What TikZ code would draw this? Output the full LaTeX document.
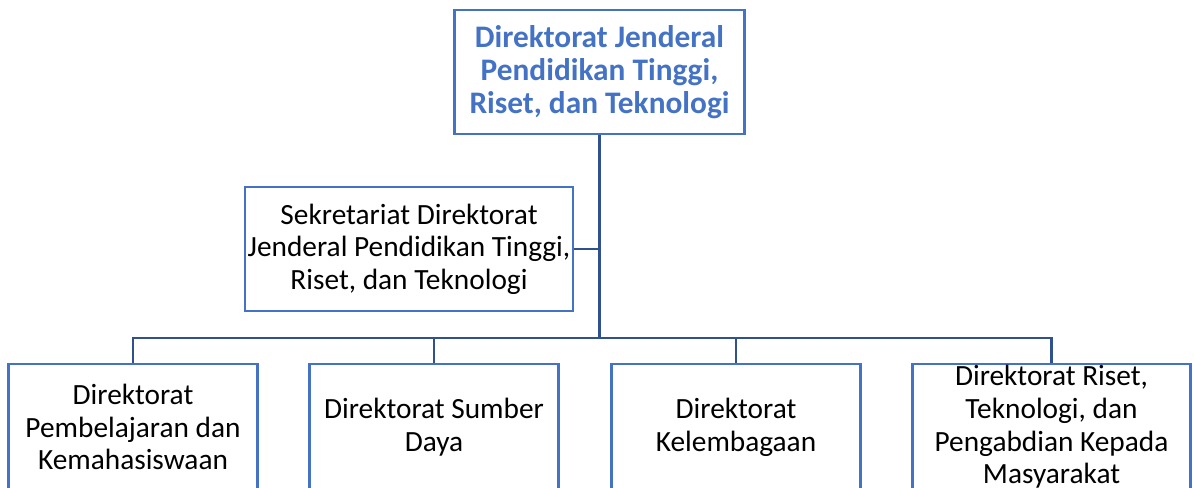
\documentclass[tikz,border=0pt]{standalone}
\usepackage{fontspec}
\setmainfont{Carlito}
\definecolor{boxblue}{HTML}{4472C4}
\definecolor{lineblue}{HTML}{2F528F}
\tikzset{
  unit/.style={draw=boxblue,line width=2.1pt,align=center,inner sep=0pt,
    font=\fontsize{22}{24.5}\selectfont},
  link/.style={draw=lineblue,line width=2.1pt}
}

\begin{document}
\begin{tikzpicture}[x=0.75pt,y=-0.75pt]
    \useasboundingbox (0,0) rectangle (1194,487);
    \clip (0,0) rectangle (1194,487);
    \node[unit,minimum width=218pt,minimum height=93pt,text=boxblue,
      font=\fontsize{23.5}{25}\selectfont\bfseries] (Dirjen) at (599.5,72)
      {Direktorat Jenderal\\Pendidikan Tinggi,\\Riset, dan Teknologi};
    \node[unit,minimum width=246pt,minimum height=93pt] (Sekr) at (409,249)
      {Sekretariat Direktorat\\Jenderal Pendidikan Tinggi,\\Riset, dan Teknologi};
    \node[unit,minimum width=187pt,minimum height=94.5pt] (D1) at (133,427)
      {Direktorat\\Pembelajaran dan\\Kemahasiswaan};
    \node[unit,minimum width=187pt,minimum height=94.5pt] (D2) at (434,427)
      {Direktorat Sumber\\Daya};
    \node[unit,minimum width=187pt,minimum height=94.5pt] (D3) at (736,427)
      {Direktorat\\Kelembagaan};
    \node[unit,minimum width=209pt,minimum height=94.5pt] (D4) at (1051.5,427)
      {Direktorat Riset,\\Teknologi, dan\\Pengabdian Kepada\\Masyarakat};
    \coordinate (bus) at (599.5,338);
    \draw [link] (Dirjen.south) -- (bus);
    \draw [link] (Sekr.east) -- (Sekr.east -| Dirjen.south);
    \draw [link] (D1.north) |- (bus) -| (D4.north);
    \draw [link] (D2.north) -- (D2.north |- bus);
    \draw [link] (D3.north) -- (D3.north |- bus);
\end{tikzpicture}
\end{document}
